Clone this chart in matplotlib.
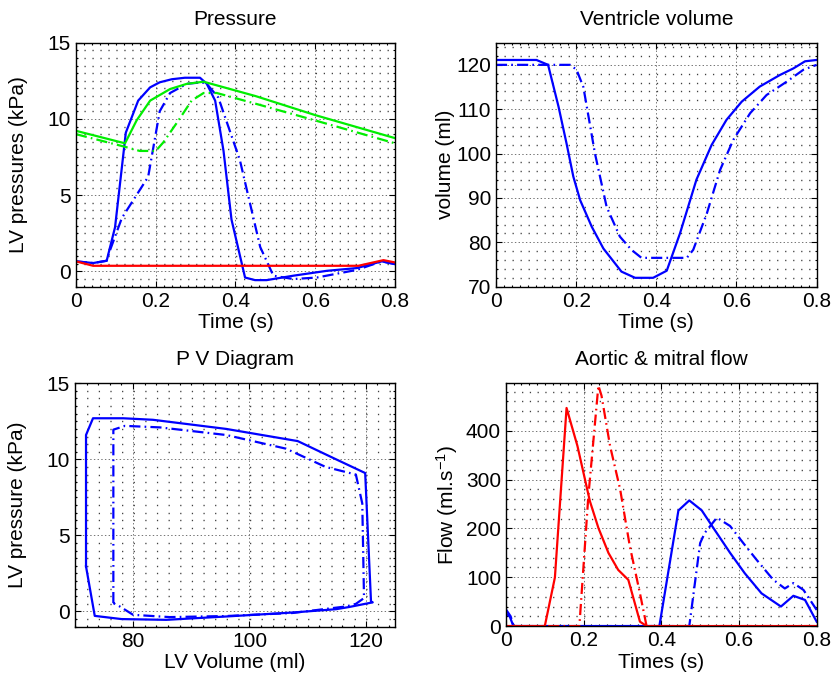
import numpy as np
import matplotlib
matplotlib.use("Agg")
import matplotlib.pyplot as plt
from matplotlib.ticker import MultipleLocator

plt.rcParams['font.family'] = ['Liberation Sans', 'DejaVu Sans']
plt.rcParams['font.size'] = 15
plt.rcParams['axes.titlesize'] = 15
plt.rcParams['axes.labelsize'] = 15
plt.rcParams['mathtext.default'] = 'regular'
plt.rcParams['lines.scale_dashes'] = False

# ---- Pressure panel (time in s, pressure in kPa) ----
t_lv = [0, 0.043, 0.077, 0.098, 0.125, 0.156, 0.186, 0.21, 0.24, 0.273, 0.311, 0.328,
        0.349, 0.37, 0.39, 0.424, 0.449, 0.478, 0.545, 0.629, 0.704, 0.767, 0.8]
p_lv = [0.66, 0.55, 0.70, 2.9, 9.1, 11.2, 12.07, 12.4, 12.6, 12.7, 12.7, 12.3,
        11.2, 7.9, 3.4, -0.4, -0.57, -0.57, -0.28, 0.04, 0.22, 0.66, 0.48]
t_lv2 = [0, 0.043, 0.077, 0.085, 0.115, 0.148, 0.181, 0.21, 0.236, 0.278, 0.315, 0.328,
         0.357, 0.411, 0.462, 0.495, 0.545, 0.604, 0.704, 0.767, 0.8]
p_lv2 = [0.66, 0.55, 0.70, 1.36, 3.5, 4.85, 6.2, 10.5, 11.7, 12.3, 12.4, 12.3,
         11.4, 7.3, 1.6, -0.28, -0.5, -0.4, 0.1, 0.66, 0.48]
t_ao = [0, 0.123, 0.152, 0.186, 0.236, 0.278, 0.32, 0.45, 0.6, 0.8]
p_ao = [9.22, 8.4, 9.9, 11.2, 11.96, 12.3, 12.44, 11.5, 10.25, 8.74]
t_ao2 = [0, 0.123, 0.16, 0.2, 0.219, 0.257, 0.29, 0.32, 0.353, 0.45, 0.6, 0.8]
p_ao2 = [9.0, 8.17, 7.9, 7.9, 8.46, 9.9, 11.2, 11.7, 11.7, 11.0, 9.9, 8.4]
t_la = [0, 0.043, 0.708, 0.771, 0.8]
p_la = [0.66, 0.37, 0.37, 0.74, 0.59]

# ---- Ventricle volume panel (ml) ----
t_vol = [0, 0.101, 0.13, 0.156, 0.176, 0.193, 0.21, 0.239, 0.268, 0.313, 0.347, 0.392,
         0.426, 0.459, 0.5, 0.538, 0.575, 0.613, 0.658, 0.708, 0.742, 0.771, 0.8]
v_lv = [121.1, 121.1, 120, 110.6, 102.3, 94.8, 89.5, 83.5, 78.6, 73.4, 72, 72,
        73.6, 82, 94.1, 101.95, 107.6, 111.7, 115.1, 117.7, 119.2, 120.8, 121.1]
t_vol2 = [0, 0.185, 0.201, 0.218, 0.247, 0.276, 0.309, 0.338, 0.363, 0.476, 0.492,
          0.526, 0.559, 0.592, 0.634, 0.675, 0.725, 0.767, 0.8]
v_lv2 = [120, 120, 118.9, 115, 100, 88, 81.3, 78.3, 76.5, 76.5, 78.3,
         86.5, 96.3, 103.1, 109.1, 113.2, 116.2, 118.9, 120]

# ---- PV loop (volume ml, pressure kPa) ----
pv_vol = [71.9, 71.9, 73.1, 78.3, 83.4, 96, 108.3, 114.9, 119.9, 120.9, 121.2,
          117.1, 114.9, 107.4, 96, 85.7, 78, 73.4, 71.9]
pv_p = [2.96, 11.6, 12.7, 12.7, 12.6, 12.0, 11.2, 10.0, 9.1, 0.66, 0.6,
        0.29, 0.15, -0.07, -0.33, -0.55, -0.5, -0.29, 2.96]
pv_vol2 = [76.6, 76.6, 78.6, 84.6, 96, 106.3, 113.1, 118.3, 119.4, 119.7, 118.3,
           116.6, 107.4, 96, 86.3, 80, 77.7, 76.6]
pv_p2 = [0.55, 11.95, 12.2, 12.1, 11.6, 10.7, 9.5, 9.0, 7.1, 0.88, 0.5,
         0.33, -0.1, -0.3, -0.37, -0.22, 0.33, 0.55]

# ---- Aortic & mitral flow (ml/s) ----
t_mi = [0, 0.1, 0.126, 0.156, 0.184, 0.216, 0.238, 0.264, 0.289, 0.315, 0.345, 0.362, 0.8]
q_mi = [0, 0, 99.5, 446.7, 369, 256, 201, 149.6, 115, 94.7, 9, 0, 0]
t_mi2 = [0, 0.189, 0.212, 0.238, 0.246, 0.268, 0.294, 0.319, 0.345, 0.362, 0.8]
q_mi2 = [0, 0, 265, 492.6, 472, 369, 280, 163, 67, 0, 0]
t_av = [0, 0.01, 0.019, 0.395, 0.444, 0.472, 0.504, 0.534, 0.577, 0.615, 0.658,
        0.708, 0.74, 0.77, 0.8]
q_av = [26, 19, 0, 0, 236.7, 257.3, 237, 201, 150, 108, 67, 40, 62, 53.5, 9]
t_av2 = [0, 0.012, 0.02, 0.472, 0.5, 0.512, 0.543, 0.577, 0.611, 0.645, 0.688,
         0.718, 0.74, 0.766, 0.8]
q_av2 = [34, 20, 0, 0, 170, 191, 222, 205, 170, 136, 95, 77, 88, 74, 33]

blue = '#0000ff'
red = '#ff0000'
green = '#00ee00'
LW = 1.6
DASHDOT = (0, (8, 3, 1.2, 3))


def style_axes(ax, xminor, yminor, dpi=100):
    ax.xaxis.set_minor_locator(MultipleLocator(xminor))
    ax.yaxis.set_minor_locator(MultipleLocator(yminor))
    ax.tick_params(which='both', direction='in', top=True, right=True, width=0.8)
    ax.tick_params(which='major', length=4)
    ax.tick_params(which='minor', length=1.5)
    for s in ax.spines.values():
        s.set_linewidth(1.0)
    ax.grid(which='major', linestyle=':', color='0.45', linewidth=0.7)
    # dotted minor grid: dots placed at the minor x positions
    x0, x1 = ax.get_xlim()
    bbox = ax.get_position()
    width_px = bbox.width * fig.get_figwidth() * dpi
    step_pt = width_px * xminor / (x1 - x0) * 72.0 / dpi
    ax.yaxis.grid(which='minor', linestyle=(0, (0.9, step_pt - 0.9)), color='0.25',
                  linewidth=1.0)
    ax.set_axisbelow(True)


fig = plt.figure(figsize=(8.33, 6.87), dpi=100)

# Pressure
ax1 = fig.add_axes([0.0912, 0.5827, 0.383, 0.3552])
ax1.plot(t_lv, p_lv, '-', color=blue, lw=LW)
ax1.plot(t_lv2, p_lv2, linestyle=DASHDOT, color=blue, lw=LW)
ax1.plot(t_ao, p_ao, '-', color=green, lw=LW)
ax1.plot(t_ao2, p_ao2, linestyle=DASHDOT, color=green, lw=LW)
ax1.plot(t_la, p_la, '-', color=red, lw=LW)
ax1.set_xlim(0, 0.8)
ax1.set_ylim(-1, 15)
ax1.set_xticks([0, 0.2, 0.4, 0.6, 0.8])
ax1.set_xticklabels(['0', '0.2', '0.4', '0.6', '0.8'])
ax1.set_yticks([0, 5, 10, 15])
ax1.set_title('Pressure', pad=13)
ax1.set_xlabel('Time (s)', labelpad=2)
ax1.set_ylabel('LV pressures (kPa)', labelpad=14)
style_axes(ax1, 0.02, 0.5)

# Ventricle volume
ax2 = fig.add_axes([0.5954, 0.5827, 0.385, 0.3552])
ax2.plot(t_vol, v_lv, '-', color=blue, lw=LW)
ax2.plot(t_vol2, v_lv2, linestyle=DASHDOT, color=blue, lw=LW)
ax2.set_xlim(0, 0.8)
ax2.set_ylim(70, 125)
ax2.set_xticks([0, 0.2, 0.4, 0.6, 0.8])
ax2.set_xticklabels(['0', '0.2', '0.4', '0.6', '0.8'])
ax2.set_yticks([70, 80, 90, 100, 110, 120])
ax2.set_title('Ventricle volume', pad=13)
ax2.set_xlabel('Time (s)', labelpad=2)
ax2.set_ylabel('volume (ml)', labelpad=1)
style_axes(ax2, 0.02, 2)

# PV diagram
ax3 = fig.add_axes([0.09, 0.0878, 0.384, 0.3543])
ax3.plot(pv_vol, pv_p, '-', color=blue, lw=LW)
ax3.plot(pv_vol2, pv_p2, linestyle=DASHDOT, color=blue, lw=LW)
ax3.set_xlim(70, 125)
ax3.set_ylim(-1, 15)
ax3.set_xticks([80, 100, 120])
ax3.set_yticks([0, 5, 10, 15])
ax3.set_title('P V Diagram', pad=13)
ax3.set_xlabel('LV Volume (ml)', labelpad=2)
ax3.set_ylabel('LV pressure (kPa)', labelpad=14)
style_axes(ax3, 2, 0.5)

# Flow
ax4 = fig.add_axes([0.6074, 0.0887, 0.373, 0.3532])
ax4.plot(t_av, q_av, '-', color=blue, lw=LW)
ax4.plot(t_av2, q_av2, linestyle=DASHDOT, color=blue, lw=LW)
ax4.plot(t_mi, q_mi, '-', color=red, lw=LW)
ax4.plot(t_mi2, q_mi2, linestyle=DASHDOT, color=red, lw=LW)
ax4.set_xlim(0, 0.8)
ax4.set_ylim(0, 497)
ax4.set_xticks([0, 0.2, 0.4, 0.6, 0.8])
ax4.set_xticklabels(['0', '0.2', '0.4', '0.6', '0.8'])
ax4.set_yticks([0, 100, 200, 300, 400])
ax4.set_title('Aortic & mitral flow', pad=13)
ax4.set_xlabel('Times (s)', labelpad=2)
ax4.set_ylabel('Flow (ml.s$^{-1}$)')
style_axes(ax4, 0.02, 20)

fig.savefig('out.png', dpi=100)
